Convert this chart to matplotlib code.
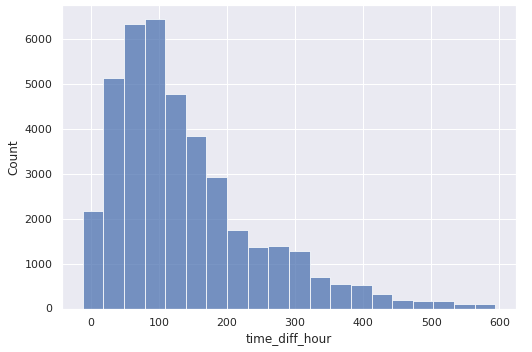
import numpy as np
import seaborn as sns
from matplotlib import pyplot as plt

# histogram of time_diff_hour, 20 bins
bin_start = -12.0
bin_width = 30.3
counts = [2175, 5142, 6333, 6445, 4782, 3838, 2939, 1748, 1366, 1389,
          1276, 692, 557, 535, 333, 198, 175, 175, 108, 108]

edges = bin_start + bin_width * np.arange(len(counts) + 1)
centers = (edges[:-1] + edges[1:]) / 2

sns.set_theme()
fig = plt.figure(figsize=(532 / 72, 352 / 72), dpi=72)
ax = fig.add_subplot(111)
fig.subplots_adjust(left=62 / 532, right=516 / 532, bottom=1 - 308.5 / 352, top=1 - 5 / 352)

ax.hist(centers, bins=edges, weights=counts, color="#4c72b0", alpha=0.75,
        edgecolor="white", linewidth=1)
ax.set_xlabel("time_diff_hour")
ax.set_ylabel("Count")

plt.savefig("out.png", dpi=72)
